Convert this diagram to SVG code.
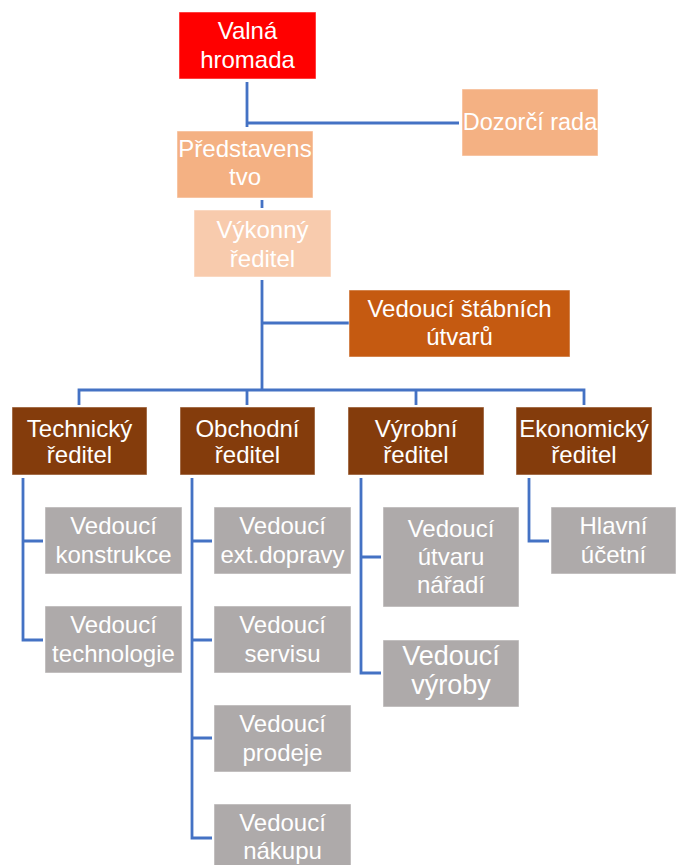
<svg xmlns="http://www.w3.org/2000/svg" width="677" height="865" viewBox="0 0 677 865">
<style>
.b{stroke:#ffffff;stroke-opacity:0.5;stroke-width:1}
.t{font-family:"Liberation Sans",Arial,sans-serif;font-size:24px;fill:#ffffff;text-anchor:middle}
.c{fill:none;stroke:#4472C4;stroke-width:2.8}
</style>
<rect width="677" height="865" fill="#ffffff"/>
<g id="connectors">
<path class="c" d="M247 82V127M247 123H459"/>
<path class="c" d="M262 200V208"/>
<path class="c" d="M262 280V390M262 323H349"/>
<path class="c" d="M79 405V390H584V405M247 390V405M416 390V405"/>
<path class="c" d="M23 478V640H43M23 541H43"/>
<path class="c" d="M192 478V838H212M192 541H212M192 640H212M192 738H212"/>
<path class="c" d="M361 478V673H381M361 557H381"/>
<path class="c" d="M529 478V541H549"/>
</g>
<g id="valna"><rect class="b" x="179" y="12" width="137" height="67" fill="#FF0000"/><text class="t" x="247.5" y="39">Valná</text><text class="t" x="247.5" y="68">hromada</text></g>
<g id="dozorci"><rect class="b" x="462" y="89" width="136" height="67" fill="#F4B183"/><text class="t" x="530" y="130" style="font-size:23.5px">Dozorčí rada</text></g>
<g id="predstavenstvo"><rect class="b" x="177" y="131" width="136" height="67" fill="#F4B183"/><text class="t" x="245" y="157">Představens</text><text class="t" x="245" y="185">tvo</text></g>
<g id="vykonny"><rect class="b" x="194" y="210" width="137" height="67" fill="#F8CBAD"/><text class="t" x="262.5" y="238">Výkonný</text><text class="t" x="262.5" y="267">ředitel</text></g>
<g id="stabni"><rect class="b" x="349" y="290" width="221" height="67" fill="#C55A11"/><text class="t" x="459.5" y="317">Vedoucí štábních</text><text class="t" x="459.5" y="345">útvarů</text></g>
<g id="technicky"><rect class="b" x="12" y="407" width="135" height="68" fill="#843C0C"/><text class="t" x="79.5" y="437">Technický</text><text class="t" x="79.5" y="463">ředitel</text></g>
<g id="obchodni"><rect class="b" x="180" y="407" width="135" height="68" fill="#843C0C"/><text class="t" x="247.5" y="437">Obchodní</text><text class="t" x="247.5" y="463">ředitel</text></g>
<g id="vyrobni"><rect class="b" x="348" y="407" width="136" height="68" fill="#843C0C"/><text class="t" x="416" y="437">Výrobní</text><text class="t" x="416" y="463">ředitel</text></g>
<g id="ekonomicky"><rect class="b" x="516" y="407" width="136" height="68" fill="#843C0C"/><text class="t" x="584" y="437">Ekonomický</text><text class="t" x="584" y="463">ředitel</text></g>
<g id="konstrukce"><rect class="b" x="45" y="507" width="137" height="67" fill="#AEAAAA"/><text class="t" x="113.5" y="534">Vedoucí</text><text class="t" x="113.5" y="563">konstrukce</text></g>
<g id="technologie"><rect class="b" x="45" y="606" width="137" height="67" fill="#AEAAAA"/><text class="t" x="113.5" y="633">Vedoucí</text><text class="t" x="113.5" y="662">technologie</text></g>
<g id="doprava"><rect class="b" x="214" y="507" width="137" height="67" fill="#AEAAAA"/><text class="t" x="282.5" y="534">Vedoucí</text><text class="t" x="282.5" y="563">ext.dopravy</text></g>
<g id="servis"><rect class="b" x="214" y="606" width="137" height="67" fill="#AEAAAA"/><text class="t" x="282.5" y="633">Vedoucí</text><text class="t" x="282.5" y="662">servisu</text></g>
<g id="prodej"><rect class="b" x="214" y="705" width="137" height="67" fill="#AEAAAA"/><text class="t" x="282.5" y="732">Vedoucí</text><text class="t" x="282.5" y="761">prodeje</text></g>
<g id="nakup"><rect class="b" x="214" y="804" width="137" height="67" fill="#AEAAAA"/><text class="t" x="282.5" y="831">Vedoucí</text><text class="t" x="282.5" y="859">nákupu</text></g>
<g id="naradi"><rect class="b" x="383" y="507" width="136" height="100" fill="#AEAAAA"/><text class="t" x="451" y="537">Vedoucí</text><text class="t" x="451" y="565">útvaru</text><text class="t" x="451" y="593">nářadí</text></g>
<g id="vyroba"><rect class="b" x="383" y="640" width="136" height="67" fill="#AEAAAA"/><text class="t" x="451" y="665" style="font-size:27px">Vedoucí</text><text class="t" x="451" y="694" style="font-size:27px">výroby</text></g>
<g id="ucetni"><rect class="b" x="551" y="507" width="125" height="67" fill="#AEAAAA"/><text class="t" x="613.5" y="534">Hlavní</text><text class="t" x="613.5" y="563">účetní</text></g>
</svg>
